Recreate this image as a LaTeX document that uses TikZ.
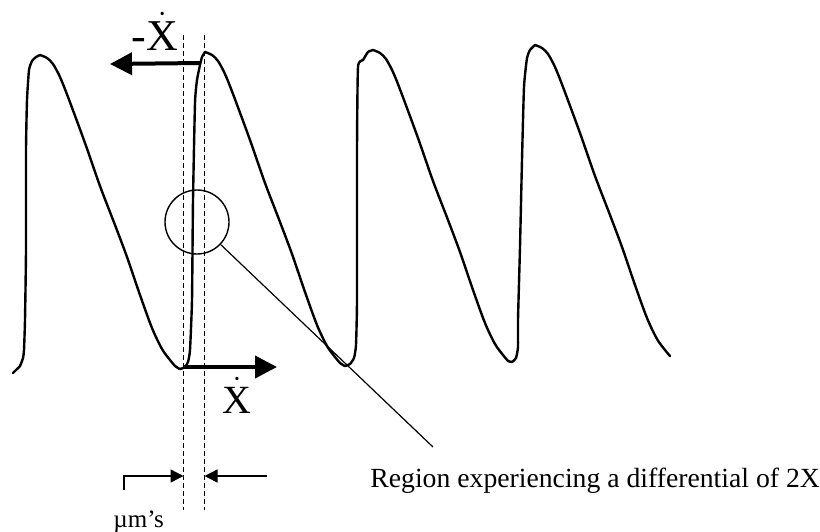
\documentclass[tikz,border=0pt]{standalone}
\usepackage{fontspec}
\setmainfont{Liberation Serif}
\usepackage{amsmath}
\usetikzlibrary{arrows.meta,positioning}

\begin{document}
\begin{tikzpicture}[
  x=0.5pt, y=-0.5pt,
  wave/.style={line width=1.2pt, line join=round, line cap=round},
  guide/.style={line width=0.6pt, dash pattern=on 2.5pt off 1.5pt},
  motion/.style={line width=2pt, -{Triangle[length=11pt,width=11pt]}},
  gap/.style={line width=0.7pt, -{Triangle[length=6.5pt,width=6.5pt]}},
  zone/.style={circle, draw, line width=0.7pt, minimum size=32pt, inner sep=0pt},
  velo/.style={inner sep=0pt, font=\fontsize{22}{24}\selectfont}
]
\useasboundingbox (0,0) rectangle (820,531);

\foreach \px/\py in {40/55,205/52,373/50,535/45}
  \draw[wave, shift={(\px,\py)}] plot[smooth, tension=.5] coordinates
    {(0,0) (7,3) (13,9) (20,22) (28,42) (45,88) (60,131) (75,170) (87,202)
     (100,240) (112,273) (122,294) (130,305) (135,311)};

\draw[wave] plot[smooth, tension=.3] coordinates
  {(13,373) (16,370) (20,366) (23,358) (24,350) (25,320) (26,250) (26,150)
   (27,100) (29,70) (32,61) (36,57) (40,55)};
\draw[wave] plot[smooth, tension=.3] coordinates
  {(175,366) (180,369) (185,367) (188,362) (190,350) (192,300) (193,200)
   (195,103) (197,80) (200,65) (202,57) (205,52)};
\draw[wave] plot[smooth, tension=.3] coordinates
  {(340,363) (345,366) (350,364) (354,358) (356,345) (357,300) (357,150)
   (358,67) (363,60) (368,52) (373,50)};
\draw[wave] plot[smooth, tension=.3] coordinates
  {(508,361) (512,362) (516,358) (518,347) (518,320) (520,247) (522,160)
   (524,87) (527,58) (530,50) (535,45)};

\foreach \gx in {183.5,204.5}
  \draw[guide] (\gx,35) -- (\gx,510);

\coordinate (risetop) at (200,63);
\coordinate (backtip) at (110,64);
\coordinate (trough) at (183,367);
\coordinate (fwdtip) at (277,367);
\draw[motion] (risetop) -- (backtip);
\draw[motion] (trough) -- (fwdtip);

\node[velo, anchor=base] (xminus) at (155,50) {-$\dot{\text{X}}$};
\node[velo, anchor=base, font=\fontsize{20}{22}\selectfont] (xplus) at (237,413) {$\dot{\text{X}}$};

\node[zone] (region) at (197,222) {};
\coordinate (leadend) at (433,447);
\draw[line width=0.6pt] (region) -- (leadend);
\node[anchor=base west, inner sep=0pt, font=\fontsize{13.85}{16}\selectfont] (regionlabel) at (370,487)
  {Region experiencing a differential of 2X};

\coordinate (gapcorner) at (124,490);
\coordinate (gapleft) at (183.5,476);
\coordinate (gaptail) at (267,476);
\coordinate (gapright) at (204.5,476);
\draw[gap] (gapcorner) |- (gapleft);
\draw[gap] (gaptail) -- (gapright);
\node[anchor=base west, inner sep=0pt, font=\fontsize{12.5}{14}\selectfont] (microns) at (113,527) {µm’s};
\end{tikzpicture}
\end{document}
